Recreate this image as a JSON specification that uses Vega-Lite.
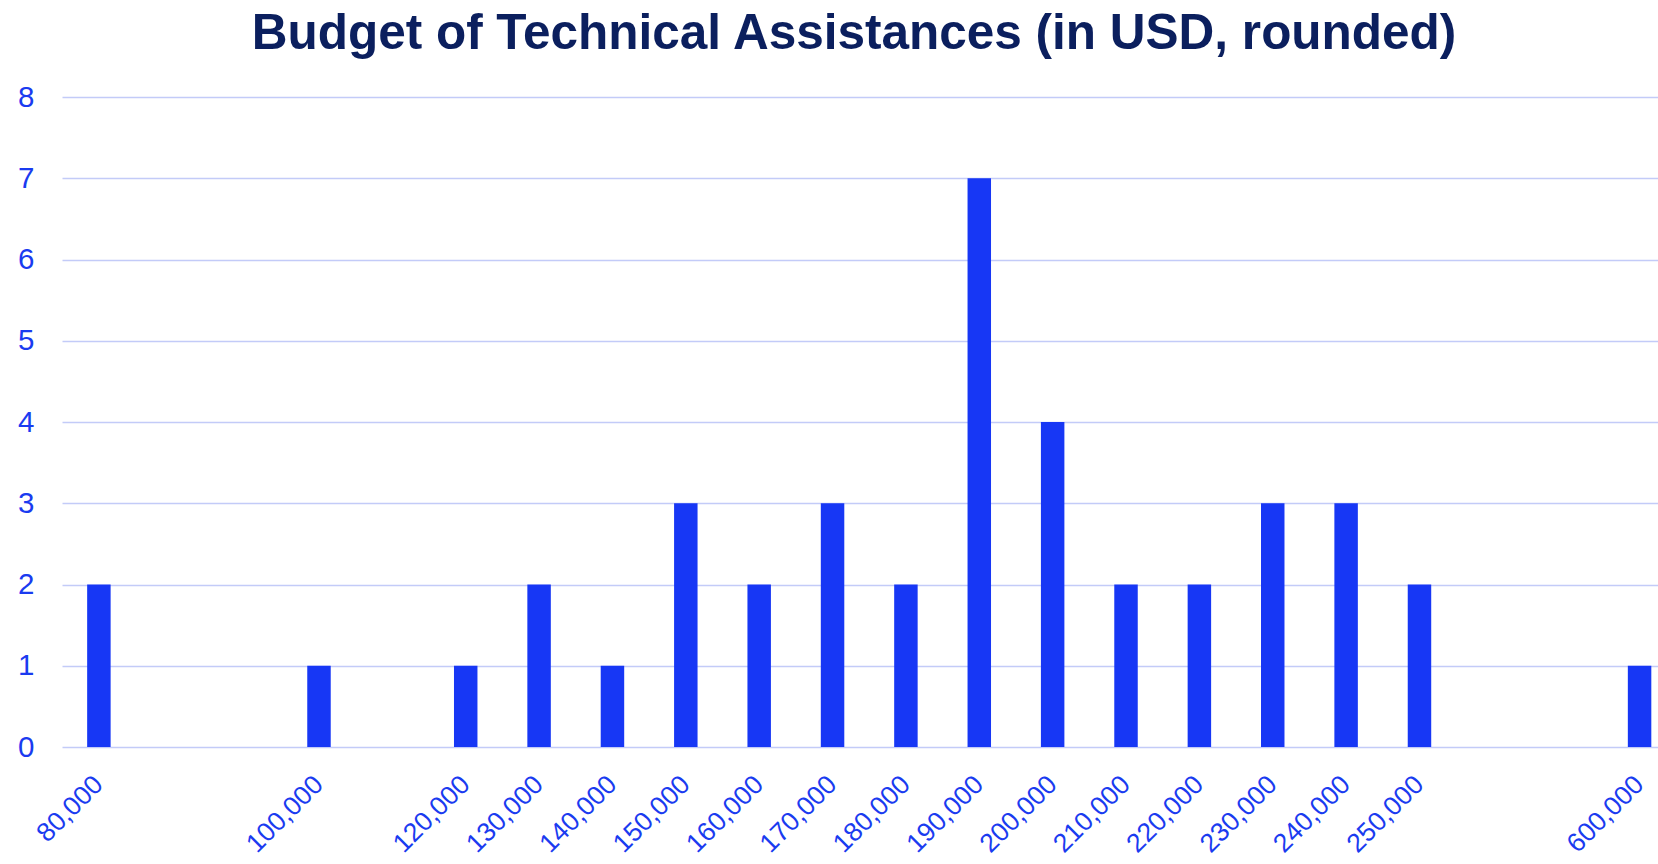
{
  "$schema": "https://vega.github.io/schema/vega-lite/v6.json",
  "width": 1596,
  "height": 650,
  "autosize": {"type": "none"},
  "padding": {"left": 62, "top": 97, "right": 0, "bottom": 117},
  "background": "white",
  "title": {
    "text": "Budget of Technical Assistances (in USD, rounded)",
    "font": "Liberation Sans",
    "fontSize": 49.5,
    "fontWeight": "bold",
    "color": "#0b1f5e",
    "anchor": "middle",
    "frame": "group",
    "baseline": "alphabetic",
    "offset": -16,
    "dx": -6
  },
  "data": {
    "values": [
      {"budget": "80,000", "count": 2},
      {"budget": "100,000", "count": 1},
      {"budget": "120,000", "count": 1},
      {"budget": "130,000", "count": 2},
      {"budget": "140,000", "count": 1},
      {"budget": "150,000", "count": 3},
      {"budget": "160,000", "count": 2},
      {"budget": "170,000", "count": 3},
      {"budget": "180,000", "count": 2},
      {"budget": "190,000", "count": 7},
      {"budget": "200,000", "count": 4},
      {"budget": "210,000", "count": 2},
      {"budget": "220,000", "count": 2},
      {"budget": "230,000", "count": 3},
      {"budget": "240,000", "count": 3},
      {"budget": "250,000", "count": 2},
      {"budget": "600,000", "count": 1}
    ]
  },
  "mark": {"type": "bar", "color": "#1737f5"},
  "encoding": {
    "x": {
      "field": "budget",
      "type": "ordinal",
      "scale": {
        "domain": ["80,000", "g1", "g2", "100,000", "g3", "120,000", "130,000", "140,000", "150,000", "160,000", "170,000", "180,000", "190,000", "200,000", "210,000", "220,000", "230,000", "240,000", "250,000", "g4", "g5", "600,000"],
        "paddingInner": 0.68,
        "paddingOuter": 0.217,
        "align": 0.79
      },
      "axis": {
        "title": null,
        "labelExpr": "indexof(datum.label, 'g') == 0 ? '' : datum.label",
        "labelAngle": -45,
        "labelAlign": "right",
        "labelBaseline": "middle",
        "labelPadding": 33,
        "labelFont": "Liberation Sans",
        "labelFontSize": 26.5,
        "labelColor": "#1a3bf0",
        "labelOverlap": false,
        "ticks": false,
        "domain": false,
        "grid": false
      }
    },
    "y": {
      "field": "count",
      "type": "quantitative",
      "scale": {"domain": [0, 8], "nice": false},
      "axis": {
        "title": null,
        "values": [0, 1, 2, 3, 4, 5, 6, 7, 8],
        "labelFont": "Liberation Sans",
        "labelFontSize": 29.5,
        "labelColor": "#1a3bf0",
        "labelPadding": 28,
        "ticks": false,
        "domain": false,
        "grid": true,
        "gridColor": "#c3cbf8",
        "gridWidth": 1.5,
        "gridOpacity": 1
      }
    }
  },
  "config": {
    "view": {"stroke": null}
  }
}
